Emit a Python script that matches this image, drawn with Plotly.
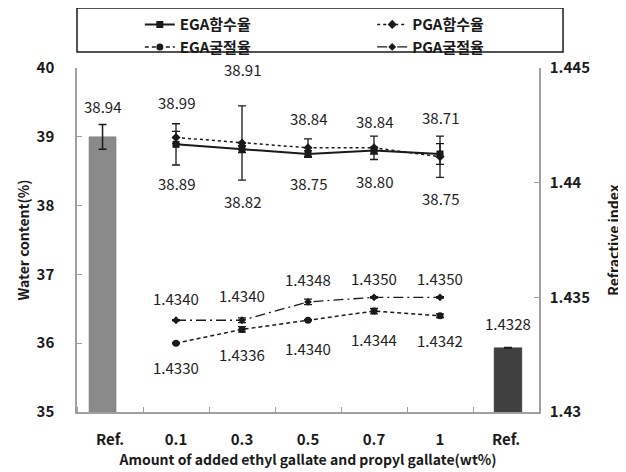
import plotly.graph_objects as go

# ---- data ----
cat_labels = ["Ref.", "0.1", "0.3", "0.5", "0.7", "1", "Ref."]
cat_pos = [0, 1, 2, 3, 4, 5, 6]
line_pos = [1, 2, 3, 4, 5]

ega_water = [38.89, 38.82, 38.75, 38.80, 38.75]
ega_water_err = [0.30, 0.05, 0.05, 0.05, 0.15]
pga_water = [38.99, 38.91, 38.84, 38.84, 38.71]
pga_water_err = [0.09, 0.54, 0.13, 0.17, 0.30]

ega_ri = [1.4330, 1.4336, 1.4340, 1.4344, 1.4342]
ega_ri_err = [0.00003, 0.00012, 0.00003, 0.00012, 0.00008]
pga_ri = [1.4340, 1.4340, 1.4348, 1.4350, 1.4350]
pga_ri_err = [0.00003, 0.00010, 0.00012, 0.00003, 0.00003]

ref_water = [39.0]
ref_water_err = [0.18]
ref_water_label = ["38.94"]
ref_ri = [1.4328]
ref_ri_err = [0.00001]
ref_ri_label = ["1.4328"]

ega_water_lbl = ["38.89", "38.82", "38.75", "38.80", "38.75"]
pga_water_lbl = ["38.99", "38.91", "38.84", "38.84", "38.71"]
ega_ri_lbl = ["1.4330", "1.4336", "1.4340", "1.4344", "1.4342"]
pga_ri_lbl = ["1.4340", "1.4340", "1.4348", "1.4350", "1.4350"]

# label pixel offsets (style)
ega_water_shift = [-39, -52, -29, -31, -44]
pga_water_shift = [35, 73, 29, 26, 39]
ega_ri_shift = [-24, -25, -28, -28, -25]
pga_ri_shift = [22, 25, 22, 19, 19]

FONT = "Noto Sans CJK KR"
INK = "#1a1a1a"

fig = go.Figure()

fig.add_trace(go.Bar(
    x=[cat_pos[0]], y=ref_water, yaxis="y", width=0.41, offset=-0.318,
    marker=dict(color="#8a8a8a", line=dict(color="#7a7a7a", width=0.5)),
    error_y=dict(type="data", array=ref_water_err, color=INK, thickness=1.5, width=4),
    showlegend=False, hoverinfo="skip"))
fig.add_trace(go.Bar(
    x=[cat_pos[6]], y=ref_ri, yaxis="y2", width=0.42, offset=-0.18,
    marker=dict(color="#404040", line=dict(color="#333333", width=0.5)),
    error_y=dict(type="data", array=ref_ri_err, color=INK, thickness=1.5, width=4),
    showlegend=False, hoverinfo="skip"))

fig.add_trace(go.Scatter(
    x=line_pos, y=ega_water, yaxis="y", name="EGA함수율", mode="lines+markers", legend="legend",
    line=dict(color=INK, width=2), marker=dict(symbol="square", size=7, color=INK),
    error_y=dict(type="data", array=ega_water_err, color=INK, thickness=1.3, width=4)))
fig.add_trace(go.Scatter(
    x=line_pos, y=pga_water, yaxis="y", name="PGA함수율", mode="lines+markers", legend="legend2",
    line=dict(color=INK, width=1.5, dash="dot"), marker=dict(symbol="diamond", size=7, color=INK),
    error_y=dict(type="data", array=pga_water_err, color=INK, thickness=1.3, width=4)))
fig.add_trace(go.Scatter(
    x=line_pos, y=ega_ri, yaxis="y2", name="EGA굴절율", mode="lines+markers", legend="legend",
    line=dict(color=INK, width=1.5, dash="4px,3px"), marker=dict(symbol="circle", size=7, color=INK),
    error_y=dict(type="data", array=ega_ri_err, color=INK, thickness=1.3, width=4)))
fig.add_trace(go.Scatter(
    x=line_pos, y=pga_ri, yaxis="y2", name="PGA굴절율", mode="lines+markers", legend="legend2",
    line=dict(color=INK, width=1.3, dash="10px,4px,2px,4px"), marker=dict(symbol="diamond", size=6, color=INK),
    error_y=dict(type="data", array=pga_ri_err, color=INK, thickness=1.3, width=4)))

ann = []
def lab(x, y, t, shift, yref):
    ann.append(dict(x=x, y=y, xref="x", yref=yref, text=t, showarrow=False,
                    yshift=shift, font=dict(family=FONT, size=15, color="#222222")))

for i, x in enumerate(line_pos):
    lab(x, ega_water[i], ega_water_lbl[i], ega_water_shift[i], "y")
    lab(x, pga_water[i], pga_water_lbl[i], pga_water_shift[i], "y")
    lab(x, ega_ri[i], ega_ri_lbl[i], ega_ri_shift[i], "y2")
    lab(x, pga_ri[i], pga_ri_lbl[i], pga_ri_shift[i], "y2")
lab(cat_pos[0] - 0.11, ref_water[0], ref_water_label[0], 30, "y")
lab(cat_pos[6] + 0.03, ref_ri[0], ref_ri_label[0], 24, "y2")

axis_line = "#a0a0a0"
leg_font = dict(family=FONT, size=15, color=INK, weight="bold")
fig.update_layout(
    width=618, height=464,
    margin=dict(l=69, r=87, t=60, b=60, autoexpand=False),
    paper_bgcolor="white", plot_bgcolor="white",
    font=dict(family=FONT, color=INK),
    barmode="overlay",
    annotations=ann,
    shapes=[dict(type="rect", xref="paper", yref="paper", x0=0, x1=1.052, y0=1.0465, y1=1.1744,
                 line=dict(color=INK, width=1.5), fillcolor="white", layer="below")],
    xaxis=dict(
        range=[-0.5, 6.5], tickmode="array", tickvals=cat_pos, ticktext=cat_labels,
        ticks="", showline=True, linecolor=axis_line, linewidth=1.5, showgrid=False, zeroline=False,
        tickfont=dict(family=FONT, size=15, color=INK, weight="bold"), ticklabelstandoff=13,
        minor=dict(tickmode="linear", tick0=0.5, dtick=1, ticks="inside", ticklen=5,
                   tickcolor=axis_line, tickwidth=1),
        title=dict(text="Amount of added ethyl gallate and propyl gallate(wt%)",
                   font=dict(family=FONT, size=14, color=INK, weight="bold"), standoff=4),
    ),
    yaxis=dict(
        range=[35, 40], dtick=1, showline=True, linecolor=axis_line, linewidth=1.5,
        showgrid=False, zeroline=False, ticks="inside", ticklen=5, tickcolor=axis_line,
        tickfont=dict(family=FONT, size=15, color=INK, weight="bold"), ticklabelstandoff=18,
        title=dict(text="Water content(%)", font=dict(family=FONT, size=14, color=INK, weight="bold"),
                   standoff=4),
    ),
    yaxis2=dict(
        range=[1.43, 1.445], tickvals=[1.43, 1.435, 1.44, 1.445],
        ticktext=["1.43", "1.435", "1.44", "1.445"],
        overlaying="y", side="right", showline=True, linecolor=axis_line, linewidth=1.5,
        showgrid=False, zeroline=False, ticks="inside", ticklen=5, tickcolor=axis_line,
        tickfont=dict(family=FONT, size=15, color=INK, weight="bold"), ticklabelstandoff=6,
        title=dict(text="Refractive index", font=dict(family=FONT, size=14, color=INK, weight="bold"),
                   standoff=20),
    ),
    legend=dict(
        orientation="v", x=0.136, xanchor="left", y=1.174, yanchor="top",
        bgcolor="rgba(0,0,0,0)", borderwidth=0, font=leg_font, tracegroupgap=0, itemwidth=30,
    ),
    legend2=dict(
        orientation="v", x=0.639, xanchor="left", y=1.174, yanchor="top",
        bgcolor="rgba(0,0,0,0)", borderwidth=0, font=leg_font, tracegroupgap=0, itemwidth=30,
    ),
)

fig.write_html("out.html")
